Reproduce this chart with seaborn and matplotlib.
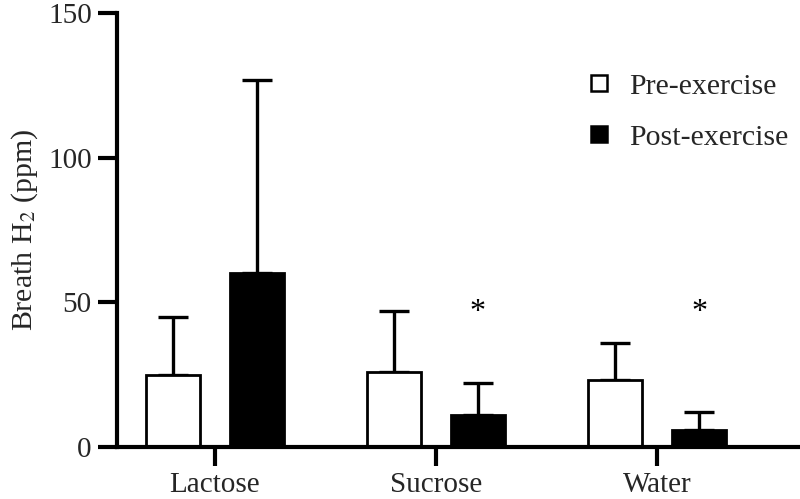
import matplotlib
matplotlib.use("Agg")
import matplotlib.pyplot as plt
import seaborn as sns
import pandas as pd
from matplotlib.lines import Line2D

categories = ["Lactose", "Sucrose", "Water"]
groups = ["Pre-exercise", "Post-exercise"]
pre_mean = [25, 26, 23]
pre_sd = [20, 21, 13]
post_mean = [60, 11, 6]
post_sd = [67, 11, 6]
significant = [False, True, True]
y_ticks = [0, 50, 100, 150]

sns.set_theme(style="ticks")
plt.rcParams["font.family"] = ["Liberation Serif", "DejaVu Serif"]
plt.rcParams["mathtext.fontset"] = "stix"

rows = []
for i, c in enumerate(categories):
    rows.append({"cat": c, "grp": groups[0], "val": pre_mean[i], "err": pre_sd[i]})
    rows.append({"cat": c, "grp": groups[1], "val": post_mean[i], "err": post_sd[i]})
df = pd.DataFrame(rows)

fig = plt.figure(figsize=(8.0, 4.99), dpi=100)
ax = fig.add_axes([0.146, 0.1042, 0.854, 0.8698])

sns.barplot(data=df, x="cat", y="val", hue="grp", order=categories, hue_order=groups,
            palette={"Pre-exercise": "white", "Post-exercise": "black"},
            edgecolor="black", linewidth=2.0, width=0.76, gap=0.36,
            errorbar=None, legend=False, ax=ax)

# error bars (upper only) placed at bar centres
for cont, means, sds, z in zip(ax.containers, [pre_mean, post_mean], [pre_sd, post_sd], [0, 1]):
    xs = [p.get_x() + p.get_width() / 2 for p in cont.patches]
    ax.errorbar(xs, means, yerr=[[0] * len(means), sds], fmt="none", ecolor="black",
                elinewidth=2.4, capsize=10.5, capthick=2.4, zorder=0.5)
    if z == 1:
        for x, m, s, sig in zip(xs, means, sds, significant):
            if sig:
                ax.text(x, 46.5, "*", ha="center", va="center", fontsize=23, color="black")

ax.set_xlim(-0.443, 2.647)
ax.set_ylim(0, 150)
ax.set_yticks(y_ticks)
ax.set_yticklabels([str(t) for t in y_ticks])
ax.set_xlabel("")
ax.set_ylabel("Breath H$_2$ (ppm)", fontsize=21.5, labelpad=6)
ax.tick_params(axis="both", labelsize=21, width=3, length=14, pad=4, color="black")
for s in ["top", "right"]:
    ax.spines[s].set_visible(False)
for s in ["left", "bottom"]:
    ax.spines[s].set_linewidth(3)
    ax.spines[s].set_color("black")

handles = [Line2D([], [], marker="s", linestyle="none", markersize=11,
                  markerfacecolor="white", markeredgecolor="black", markeredgewidth=1.8),
           Line2D([], [], marker="s", linestyle="none", markersize=11,
                  markerfacecolor="black", markeredgecolor="black", markeredgewidth=1.8)]
ax.legend(handles, groups, loc="upper left", bbox_to_anchor=(0.684, 0.862), frameon=False,
          fontsize=21.5, handletextpad=0.5, labelspacing=0.8, handlelength=1.0,
          borderaxespad=0, borderpad=0)

fig.savefig("out.png", dpi=100)
